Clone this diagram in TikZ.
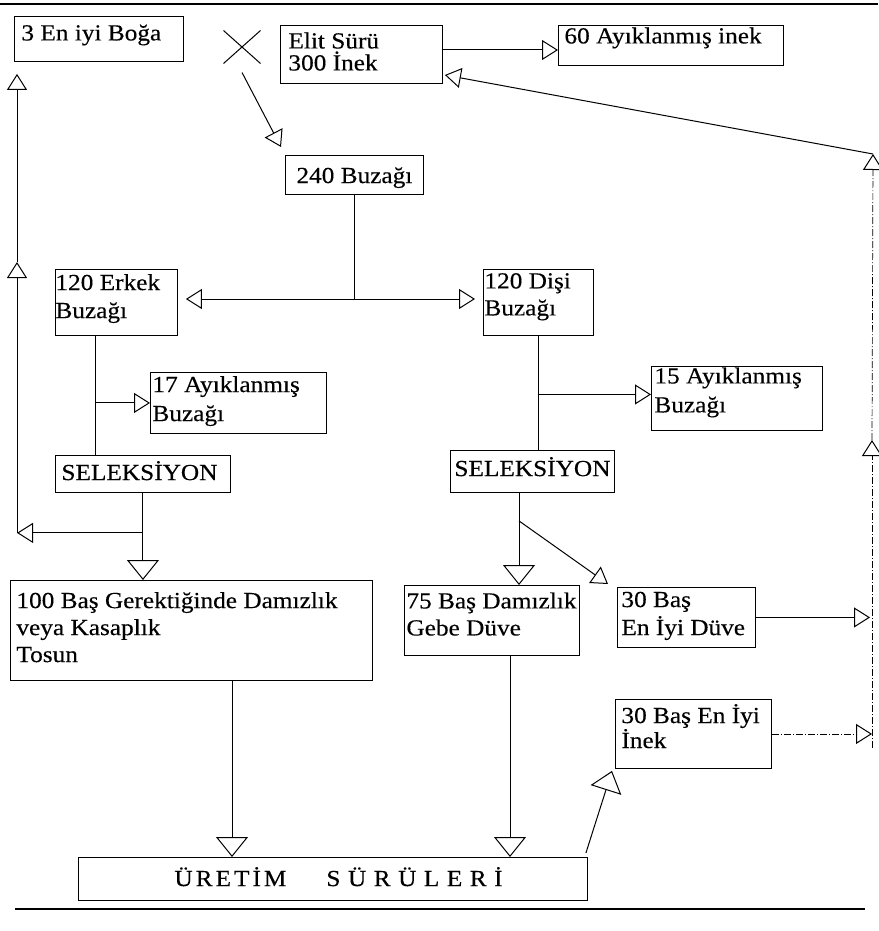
\documentclass[tikz,border=0pt]{standalone}
\usepackage{fontspec}
\setmainfont{Liberation Serif}[FakeStretch=1.1, FakeBold=0.3]
\usetikzlibrary{arrows.meta,calc,shapes.misc}
% box text: width, height, left pad, top pad, baselineskip, text
\newcommand{\bt}[6]{\parbox[c][#2][t]{#1}{\baselineskip=#5\relax\leftskip=#3\relax\rightskip=0pt plus 1fil\relax\vspace*{#4}\rule{0pt}{19pt}#6}}
\newcommand{\lspa}{\hspace{3pt}}
\newcommand{\lspb}{\hspace{7.5pt}}
\tikzset{
  box/.style={draw, line width=0.9pt, inner sep=0pt, anchor=north west},
  con/.style={line width=1pt},
  arr/.style={con, -{Triangle[open, length=16pt, width=20pt, line width=1pt]}},
  bigarr/.style={con, -{Triangle[open, length=20pt, width=32pt, line width=1pt]}},
  dashline/.style={line width=0.7pt, dash pattern=on 7pt off 2pt on 1pt off 2pt}
}
\begin{document}
\begin{tikzpicture}[x=1pt, y=-1pt, font=\fontsize{23}{27}\selectfont]
\fill[white] (0,0) rectangle (878,931);
\useasboundingbox (0,0) rectangle (878,931);
\draw[line width=2pt] (0,4) -- (878,4);
\draw[line width=2pt] (15,909) -- (865,909);

\node[box] (boga) at (14,16) {\bt{169pt}{45pt}{7pt}{5pt}{27pt}{3 En iyi Boğa}};
\node[box] (elit) at (280,25) {\bt{162pt}{58pt}{8pt}{4pt}{22pt}{Elit Sürü\\300 İnek}};
\node[box] (ayik60) at (558,25) {\bt{225pt}{40pt}{6pt}{-1pt}{27pt}{\mbox{60 Ayıklanmış inek}}};
\node[draw, cross out, line width=1pt, minimum width=36pt, minimum height=32pt, inner sep=0pt] (cross) at (242,47) {};
\node[box] (buz240) at (285,155) {\bt{138pt}{39pt}{11pt}{8.6pt}{27pt}{\mbox{240 Buzağı}}};
\node[box] (erkek) at (55,269) {\bt{122pt}{66pt}{0pt}{1.6pt}{28pt}{\mbox{120 Erkek}\\Buzağı}};
\node[box] (disi) at (483,269) {\bt{110pt}{66pt}{1pt}{0pt}{27pt}{\mbox{120 Dişi}\\Buzağı}};
\node[box] (ayik17) at (150,372) {\bt{176pt}{61pt}{2pt}{0.6pt}{29pt}{\mbox{17 Ayıklanmış}\\Buzağı}};
\node[box] (ayik15) at (651,366) {\bt{171pt}{64pt}{3pt}{-2pt}{29pt}{\mbox{15 Ayıklanmış}\\Buzağı}};
\node[box] (selL) at (55,455) {\bt{175pt}{37pt}{6pt}{5.6pt}{27pt}{SELEKSİYON}};
\node[box] (selR) at (450,450) {\bt{164pt}{42pt}{4pt}{6.6pt}{27pt}{SELEKSİYON}};
\node[box] (tosun) at (10,580) {\bt{362pt}{100pt}{6pt}{8.6pt}{27pt}{\mbox{100 Baş Gerektiğinde Damızlık}\\\mbox{veya Kasaplık}\\Tosun}};
\node[box] (gebe) at (404,585) {\bt{175pt}{70pt}{2pt}{4pt}{27pt}{\mbox{75 Baş Damızlık}\\\mbox{Gebe Düve}}};
\node[box] (duve) at (617,587) {\bt{138pt}{60pt}{4pt}{0.6pt}{28pt}{\mbox{30 Baş}\\\mbox{En İyi Düve}}};
\node[box] (inek) at (615,699) {\bt{156pt}{69pt}{6pt}{4.6pt}{22pt}{\mbox{30 Baş En İyi}\\İnek}};
\node[box] (uretim) at (78,857) {\bt{509pt}{43pt}{96pt}{9.6pt}{27pt}{\mbox{Ü\lspa R\lspa E\lspa T\lspa İ\lspa M\hspace{40pt}S\lspb Ü\lspb R\lspb Ü\lspb L\lspb E\lspb R\lspb İ}}};

% Elit -> 60 ayiklanmis
\draw[arr] (elit.east |- 0,50) -- (ayik60.west |- 0,50);
% cross -> 240
\draw[arr] ($(cross.south)+(0,9)$) -- ($(buz240.north west)+(-4,-8)$);
% 240 split
\coordinate (bsplit) at (buz240.south |- 0,299);
\draw[con] (buz240.south) -- (bsplit);
\draw[arr] (bsplit) -- ($(erkek.east |- bsplit)+(8,0)$);
\draw[arr] (bsplit) -- ($(disi.west |- bsplit)+(-8,0)$);
% erkek stem
\coordinate (estem) at ($(erkek.south west)+(40,0)$);
\draw[con] (estem) -- (estem |- selL.north);
\draw[arr] (estem |- ayik17.west) -- (ayik17.west);
% disi stem
\coordinate (dbr) at ($(ayik15.west)+(0,-4)$);
\draw[con] (disi.south) -- (disi.south |- selR.north);
\draw[arr] (disi.south |- dbr) -- (dbr);
% left selection
\coordinate (lsplit) at ($(selL.south)+(0,40)$);
\draw[con] (selL.south) -- (lsplit);
\draw[bigarr] (lsplit) -- (lsplit |- tosun.north);
\coordinate (lcorner) at (lsplit -| 17,0);
\coordinate (lmid) at (17,262);
\coordinate (ltop) at ($(lmid |- boga.south)+(0,12)$);
\draw[arr] (lsplit) -- (lcorner);
\draw[arr] (lcorner) -- (lmid);
\draw[arr] (lmid) -- (ltop);
% right selection
\coordinate (rstem) at ($(selR.south west)+(69,0)$);
\draw[bigarr] (rstem) -- (rstem |- gebe.north);
\draw[arr] ($(rstem)+(0,28)$) -- ($(duve.north west)+(-9,-3)$);
% right return line
\coordinate (rbot) at (872,748);
\coordinate (rmid) at (872,440);
\coordinate (rtop) at (873,154);
\draw[arr] (duve.east) -- (duve.east -| 870,0);
\draw[arr, dashline] (inek.east) -- (inek.east -| 872,0);
\draw[arr, dashline] (rbot) -- (rmid);
\draw[arr, dashline] (rmid) -- (rtop);
\draw[arr] (rtop) -- ($(elit.north east)+(2,50)$);
% to production herds
\coordinate (tstem) at ($(tosun.south west)+(222,0)$);
\draw[bigarr] (tstem) -- (tstem |- uretim.north);
\coordinate (gstem) at ($(gebe.south west)+(106,0)$);
\draw[bigarr] (gstem) -- (gstem |- uretim.north);
\draw[bigarr] ($(uretim.north east)+(-2,-4)$) -- ($(inek.south west)+(-3,2)$);
\end{tikzpicture}
\end{document}
